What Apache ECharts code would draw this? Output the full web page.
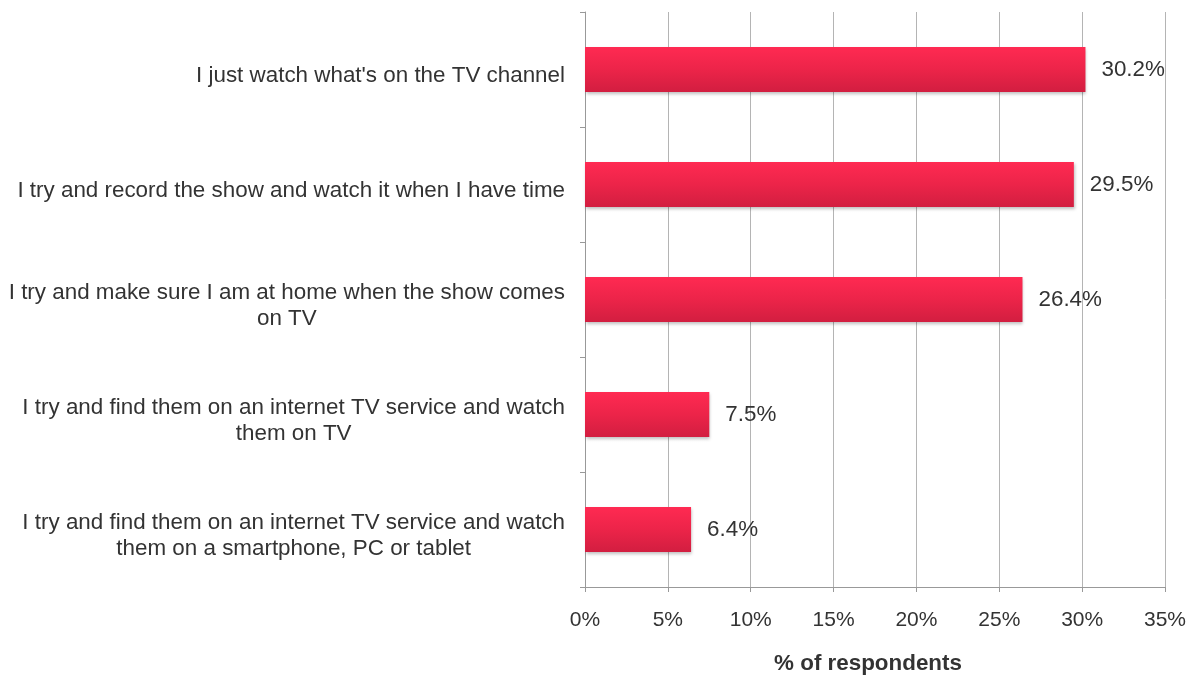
<!DOCTYPE html>
<html>
<head>
<meta charset="utf-8">
<script src="https://cdn.jsdelivr.net/npm/echarts@6/dist/echarts.min.js"></script>
<style>
  html, body { margin: 0; padding: 0; background: #ffffff; }
  #chart { width: 1193px; height: 675px; }
</style>
</head>
<body>
<div id="chart"></div>
<script>
// Survey answers, listed top to bottom
const categories = [
  "I just watch what's on the TV channel",
  "I try and record the show and watch it when I have time",
  "I try and make sure I am at home when the show comes\non TV",
  "I try and find them on an internet TV service and watch\nthem on TV",
  "I try and find them on an internet TV service and watch\nthem on a smartphone, PC or tablet"
];
// Share of respondents, in percent
const shares = [30.2, 29.5, 26.4, 7.5, 6.4];
const axisTitle = "% of respondents";

const FONT = "'Liberation Sans', Arial, Helvetica, sans-serif";
const TEXT = '#333333';

const chart = echarts.init(document.getElementById('chart'), null, { renderer: 'canvas' });

chart.setOption({
  backgroundColor: '#ffffff',
  animation: false,
  grid: { left: 585, right: 28, top: 12, bottom: 88, containLabel: false, outerBoundsMode: 'none' },
  xAxis: {
    type: 'value',
    min: 0,
    max: 35,
    interval: 5,
    name: axisTitle,
    nameLocation: 'middle',
    nameGap: 66,
    nameTextStyle: {
      fontFamily: FONT, fontSize: 22.4, fontWeight: 'bold', color: TEXT,
      padding: [0, 14, 0, 0]
    },
    axisLine: { show: true, lineStyle: { color: '#999999', width: 1 } },
    axisTick: { show: true, length: 5, lineStyle: { color: '#999999' } },
    axisLabel: {
      formatter: '{value}%',
      margin: 23,
      fontFamily: FONT, fontSize: 21, color: TEXT
    },
    splitLine: { show: true, lineStyle: { color: '#b4b4b4', width: 1 } }
  },
  yAxis: {
    type: 'category',
    data: categories,
    inverse: true,
    axisLine: { show: true, lineStyle: { color: '#999999', width: 1 } },
    axisTick: { show: true, length: 5, alignWithLabel: false, lineStyle: { color: '#999999' } },
    axisLabel: {
      margin: 20,
      lineHeight: 26,
      padding: [12, 0, 0, 0],
      fontFamily: FONT, fontSize: 22.4, color: TEXT,
      formatter: function (v) {
        return v.split('\n').map(function (s) { return '{c|' + s + '}'; }).join('\n');
      },
      rich: {
        c: { align: 'center', fontFamily: FONT, fontSize: 22.4, color: TEXT, lineHeight: 26 }
      }
    },
    splitLine: { show: false }
  },
  series: [{
    type: 'bar',
    data: shares,
    barWidth: 45,
    itemStyle: {
      color: new echarts.graphic.LinearGradient(0, 0, 0, 1, [
        { offset: 0, color: '#ff2a52' },
        { offset: 0.5, color: '#ec2449' },
        { offset: 1, color: '#d21e40' }
      ]),
      shadowColor: 'rgba(0,0,0,0.25)',
      shadowBlur: 3,
      shadowOffsetX: 1,
      shadowOffsetY: 2
    },
    label: {
      show: true,
      position: 'right',
      distance: 16,
      padding: [14, 0, 0, 0],
      formatter: function (p) { return p.value.toFixed(1) + '%'; },
      fontFamily: FONT, fontSize: 22.4, color: TEXT
    }
  }]
});
</script>
</body>
</html>
